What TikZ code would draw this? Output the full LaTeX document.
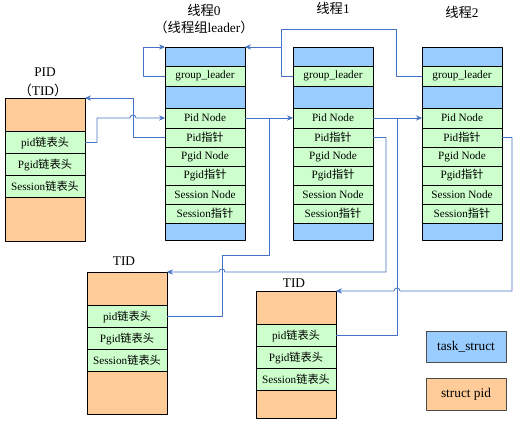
\documentclass[tikz,border=0pt]{standalone}
\usepackage{fontspec}
\setmainfont{Liberation Serif}
\newfontfamily\cjk{Noto Sans CJK SC}
\usetikzlibrary{arrows.meta}
\definecolor{taskblue}{RGB}{153,204,255}
\definecolor{fieldgreen}{RGB}{204,255,204}
\definecolor{pidorange}{RGB}{255,204,153}
\definecolor{linkblue}{RGB}{68,114,196}
\tikzset{
  cell/.style={draw, line width=0.6pt, inner sep=0pt, outer sep=0pt, minimum width=60pt,
    anchor=north west, font=\fontsize{8.4}{10}\selectfont},
  link/.style={draw=linkblue, line width=0.6pt},
  head/.style={-{Stealth[length=4.5pt,width=4pt]}},
  title/.style={font=\fontsize{10}{12}\selectfont}
}
\begin{document}
\begin{tikzpicture}[x=0.75pt, y=-0.75pt, line join=round]
	\useasboundingbox (0,0) rectangle (519,424);
	% task_struct columns
	\foreach \n/\xx in {0/165,1/293,2/422}
	\foreach \rw/\ty/\hh/\fc/\tx in {top/47/19/taskblue/{}, gl/66/20/fieldgreen/{group\_leader},
		mid/86/22/taskblue/{}, pn/108/20/fieldgreen/{Pid Node}, pp/128/19/fieldgreen/{Pid{\cjk 指针}},
		gn/147/19/fieldgreen/{Pgid Node}, gp/166/19/fieldgreen/{Pgid{\cjk 指针}},
		sn/185/19/fieldgreen/{Session Node}, sp/204/19/fieldgreen/{Session{\cjk 指针}},
		bot/223/17/taskblue/{}}
	\node[cell, fill=\fc, minimum height=\hh*0.75pt] (t\n-\rw) at (\xx,\ty) {\tx};
	% struct pid boxes
	\foreach \n/\xx/\yy/\bb in {p/5/98/44, a/87/272/43, b/256/291/28}{
		\node[cell, fill=pidorange, minimum height=25.125pt] (\n-top) at (\xx,\yy) {};
		\node[cell, fill=fieldgreen, minimum height=16.5pt] (\n-pid) at (\n-top.south west) {pid{\cjk 链表头}};
		\node[cell, fill=fieldgreen, minimum height=16.5pt] (\n-pgid) at (\n-pid.south west) {Pgid{\cjk 链表头}};
		\node[cell, fill=fieldgreen, minimum height=16.5pt] (\n-sess) at (\n-pgid.south west) {Session{\cjk 链表头}};
		\node[cell, fill=pidorange, minimum height=\bb*0.75pt] (\n-bot) at (\n-sess.south west) {};
	}
	% titles
	\node[title] (th0) at (204,10) {{\cjk 线程}0};
	\node[title] (th0b) at (204,27) {{\cjk （线程组}leader{\cjk ）}};
	\node[title] (th1) at (333,8) {{\cjk 线程}1};
	\node[title] (th2) at (462,12) {{\cjk 线程}2};
	\node[title] (pidl) at (45,72) {PID};
	\node[title] (pidl2) at (43,90) {{\cjk （}TID{\cjk ）}};
	\node[title] (tida) at (124,261) {TID};
	\node[title] (tidb) at (294,283) {TID};
	% legend
	\node[cell, draw=black!70, fill=taskblue, minimum height=23.25pt, font=\fontsize{10}{12}\selectfont] (leg1) at (426,331) {task\_struct};
	\node[cell, draw=black!70, fill=pidorange, minimum height=24pt, font=\fontsize{10}{12}\selectfont] (leg2) at (426,378) {struct pid};
	% bend points
	\path (t1-gl.west) ++(-12,-47) coordinate (glbus)
		(t0-pn.west) ++(-68,0) coordinate (b4) ++(33,0) coordinate (jmp1)
		(t0-pn.east) ++(24,0) coordinate (m1)
		(t1-pn.east) ++(24,0) coordinate (m2)
		(a-top.north east) ++(58,0) coordinate (jmp2)
		(a-top.north east) ++(55,-17) coordinate (k1)
		(b-top.north east) ++(64,0) coordinate (jmp3);
	% group_leader
	\draw[link, head] (t0-gl.west) -- ++(-22,0) |- (t0-top.north west);
	\draw[link, head] (t1-gl.west) -- ++(-12,0) |- (t0-top.north east);
	\draw[link] (t2-gl.west) -- ++(-26,0) |- (glbus) -- (glbus |- t0-top.north);
	% pid hash links
	\draw[link, head] (p-pid.east) -| (b4) -- (jmp1) arc[start angle=180, end angle=360, radius=3] -- (t0-pn.west);
	\draw[link, head] (t0-pp.west) -- ++(-32,0) |- (p-top.north east);
	\draw[link, head] (t0-pn.east) -- (t1-pn.west);
	\draw[link, head] (t1-pn.east) -- (t2-pn.west);
	\draw[link, head] (t1-pp.east) -- ++(13,0) |- (jmp2) arc[start angle=0, end angle=-180, radius=3] -- (a-top.north east);
	\draw[link, head] (t2-pp.east) -- ++(10,0) |- (jmp3) arc[start angle=0, end angle=-180, radius=3] -- (b-top.north east);
	\draw[link] (a-pid.east) -| (k1) -| (m1);
	\draw[link] (b-pid.east) -| (m2);
\end{tikzpicture}
\end{document}
